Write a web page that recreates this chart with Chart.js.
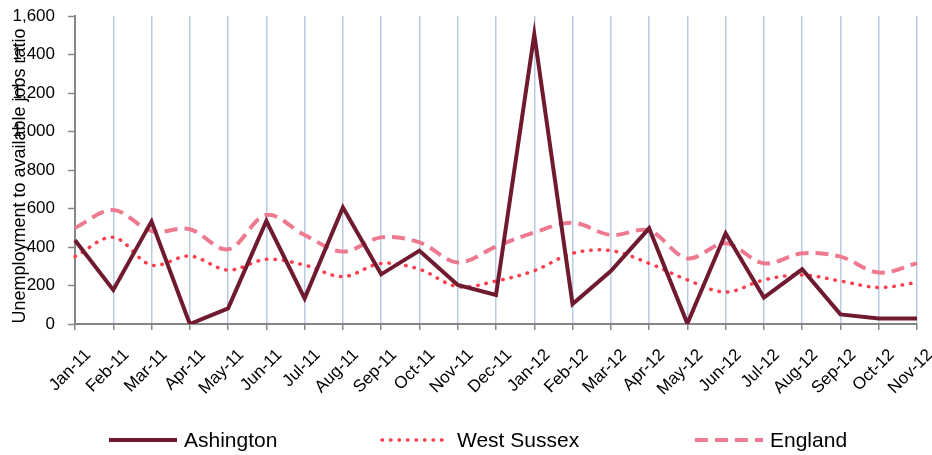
<!DOCTYPE html>
<html>
<head>
<meta charset="utf-8">
<script src="https://cdn.jsdelivr.net/npm/chart.js@4.4.1/dist/chart.umd.min.js"></script>
<style>
html, body { margin: 0; padding: 0; background: #fff; }
#wrap { width: 932px; height: 455px; position: relative; }
</style>
</head>
<body>
<div id="wrap"><canvas id="chart"></canvas></div>
<script>
var months = ['Jan-11', 'Feb-11', 'Mar-11', 'Apr-11', 'May-11', 'Jun-11', 'Jul-11', 'Aug-11',
    'Sep-11', 'Oct-11', 'Nov-11', 'Dec-11', 'Jan-12', 'Feb-12', 'Mar-12', 'Apr-12',
    'May-12', 'Jun-12', 'Jul-12', 'Aug-12', 'Sep-12', 'Oct-12', 'Nov-12'];
var ashington = [435, 177, 533, 0, 81, 535, 133, 605, 258, 381, 203, 151, 1505, 104, 275, 497, 2, 471, 137, 284, 50, 29, 29];
var westSussex = [350, 450, 306, 353, 280, 336, 306, 246, 315, 284, 194, 223, 277, 367, 381, 315, 229, 166, 229, 255, 223, 190, 215];
var england = [500, 592, 483, 492, 388, 566, 462, 376, 450, 424, 320, 402, 476, 526, 462, 485, 341, 419, 315, 367, 350, 267, 315];
var seriesNames = ['Ashington', 'West Sussex', 'England'];
var yMin = 0, yMax = 1600, yStep = 200;
var yTitle = 'Unemployment to available jobs ratio';

var FONT = '"Liberation Sans", Arial, sans-serif';

// excel style legend along the bottom, with wide gaps between entries
var bottomLegend = {
    id: 'bottomLegend',
    afterDraw: function (chart) {
        var ctx = chart.ctx;
        var starts = [109, 382, 695];
        ctx.save();
        ctx.font = '21px ' + FONT;
        ctx.textBaseline = 'middle';
        chart.data.datasets.forEach(function (ds, i) {
            var x = starts[i], y = 440;
            ctx.beginPath();
            ctx.setLineDash(ds.borderDash || []);
            ctx.lineCap = ds.borderCapStyle || 'butt';
            ctx.lineWidth = ds.borderWidth;
            ctx.strokeStyle = ds.borderColor;
            ctx.moveTo(x, y);
            ctx.lineTo(x + 68, y);
            ctx.stroke();
            ctx.setLineDash([]);
            ctx.fillStyle = '#000';
            ctx.fillText(ds.label, x + 75, y + 1);
        });
        ctx.restore();
    }
};

// axis title sits over the tick labels in the original
var yTitlePlugin = {
    id: 'yTitle',
    afterDraw: function (chart) {
        var ctx = chart.ctx;
        ctx.save();
        ctx.translate(20, 176);
        ctx.rotate(-Math.PI / 2);
        ctx.font = '18px ' + FONT;
        ctx.fillStyle = '#000';
        ctx.textAlign = 'center';
        ctx.textBaseline = 'middle';
        ctx.fillText(yTitle, 0, 0);
        ctx.restore();
    }
};

var ctx = document.getElementById('chart');
new Chart(ctx, {
    type: 'line',
    data: {
        labels: months,
        datasets: [{
            label: seriesNames[0],
            data: ashington,
            borderColor: '#701a30',
            borderWidth: 4,
            tension: 0,
            pointRadius: 0
        }, {
            label: seriesNames[1],
            data: westSussex,
            borderColor: '#ff3d4f',
            borderWidth: 3.5,
            borderDash: [0.5, 8],
            borderCapStyle: 'round',
            tension: 0.35,
            pointRadius: 0
        }, {
            label: seriesNames[2],
            data: england,
            borderColor: '#ee7a8f',
            borderWidth: 4,
            borderDash: [13, 7],
            tension: 0.35,
            pointRadius: 0
        }]
    },
    options: {
        responsive: true,
        maintainAspectRatio: false,
        animation: false,
        layout: {
            padding: { left: 0, right: 15, top: 16, bottom: 0 }
        },
        plugins: {
            legend: { display: false },
            tooltip: { enabled: false }
        },
        scales: {
            x: {
                offset: false,
                afterFit: function (scale) {
                    scale.height = 131;
                    scale.paddingLeft = 0;
                    scale.paddingRight = 0;
                },
                grid: {
                    color: '#b8cce4',
                    lineWidth: 1.5,
                    tickColor: '#868686',
                    tickLength: 6,
                    tickWidth: 1.5
                },
                border: { color: '#868686', width: 2 },
                ticks: {
                    autoSkip: false,
                    maxRotation: 45,
                    minRotation: 45,
                    labelOffset: 13,
                    padding: 15,
                    color: '#000',
                    font: { family: FONT, size: 17 }
                }
            },
            y: {
                min: yMin,
                max: yMax,
                afterFit: function (scale) {
                    scale.width = 75;
                    scale.paddingTop = 0;
                    scale.paddingBottom = 0;
                },
                grid: {
                    drawOnChartArea: false,
                    tickColor: '#868686',
                    tickLength: 7,
                    tickWidth: 1.5
                },
                border: { color: '#868686', width: 2 },
                ticks: {
                    stepSize: yStep,
                    padding: 13,
                    color: '#000',
                    font: { family: FONT, size: 17 },
                    callback: function (v) { return v.toLocaleString('en-US'); }
                }
            }
        }
    },
    plugins: [bottomLegend, yTitlePlugin]
});
</script>
</body>
</html>
